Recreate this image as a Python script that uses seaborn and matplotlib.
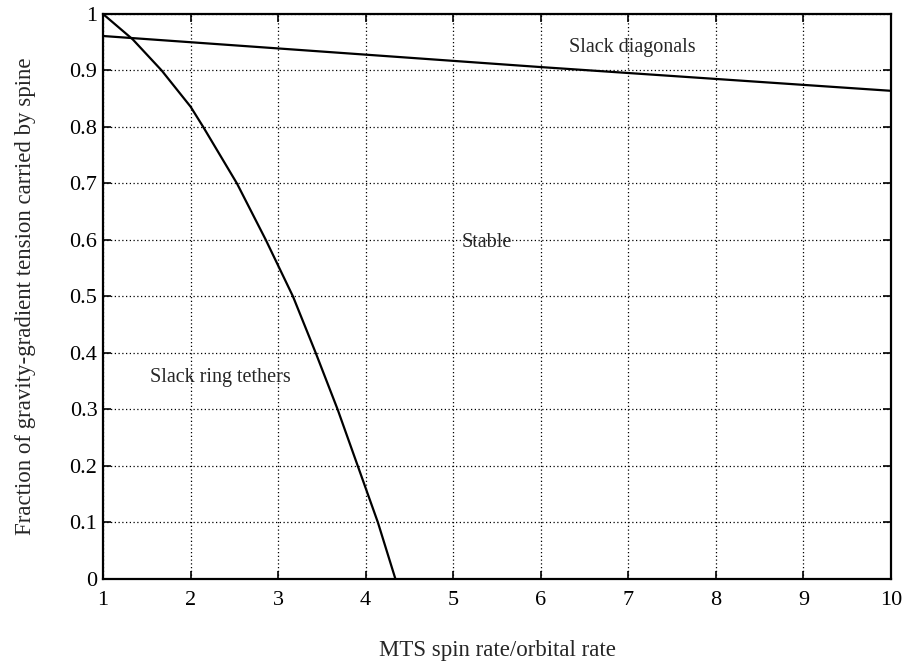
import matplotlib
matplotlib.use("Agg")
import matplotlib.pyplot as plt
import seaborn as sns
import pandas as pd

# Data
ring_x = [1.0, 1.34, 1.67, 2.0, 2.145, 2.53, 2.86, 3.17, 3.43, 3.68, 3.91, 4.14, 4.34]
ring_y = [1.0, 0.955, 0.90, 0.836, 0.80, 0.70, 0.60, 0.50, 0.40, 0.30, 0.20, 0.10, 0.0]
diag_x = [1.0, 6.0, 10.0]
diag_y = [0.961, 0.906, 0.864]

xticks = [1, 2, 3, 4, 5, 6, 7, 8, 9, 10]
yticks = [0, 0.1, 0.2, 0.3, 0.4, 0.5, 0.6, 0.7, 0.8, 0.9, 1]
ytick_labels = ["0", "0.1", "0.2", "0.3", "0.4", "0.5", "0.6", "0.7", "0.8", "0.9", "1"]

annotations = [("Slack diagonals", 7.04, 0.94), ("Stable", 5.38, 0.595),
               ("Slack ring tethers", 2.34, 0.357)]

sns.set_style("ticks")
plt.rcParams['font.family'] = ['Liberation Serif', 'DejaVu Serif']

fig = plt.figure(figsize=(9.09, 6.62), dpi=100)
ax = fig.add_axes([0.1133, 0.1254, 0.9802 - 0.1133, 0.9789 - 0.1254])

df_ring = pd.DataFrame({"x": ring_x, "y": ring_y})
df_diag = pd.DataFrame({"x": diag_x, "y": diag_y})
sns.lineplot(data=df_ring, x="x", y="y", ax=ax, color="black", lw=1.6, sort=False)
sns.lineplot(data=df_diag, x="x", y="y", ax=ax, color="black", lw=1.6, sort=False)

ax.set_xlim(1, 10)
ax.set_ylim(0, 1)
ax.set_xticks(xticks)
ax.set_yticks(yticks)
ax.set_yticklabels(ytick_labels)
ax.grid(True, color="black", linestyle=(0, (1, 2)), linewidth=0.9)
ax.tick_params(direction="in", length=6, width=1.2, labelsize=16, colors="black",
               top=True, right=True)
ax.tick_params(axis="x", pad=9)
ax.tick_params(axis="y", pad=4)
for s in ax.spines.values():
    s.set_visible(True)
    s.set_color("black")
    s.set_linewidth(1.6)

ax.set_xlabel("MTS spin rate/orbital rate", fontsize=16.5, labelpad=21)
ax.set_ylabel("Fraction of gravity-gradient tension carried by spine", fontsize=16.5, labelpad=24)

for txt, x, y in annotations:
    ax.text(x, y, txt, fontsize=14.5, ha="center", va="center")

fig.savefig("out.png", dpi=100, facecolor="white")
